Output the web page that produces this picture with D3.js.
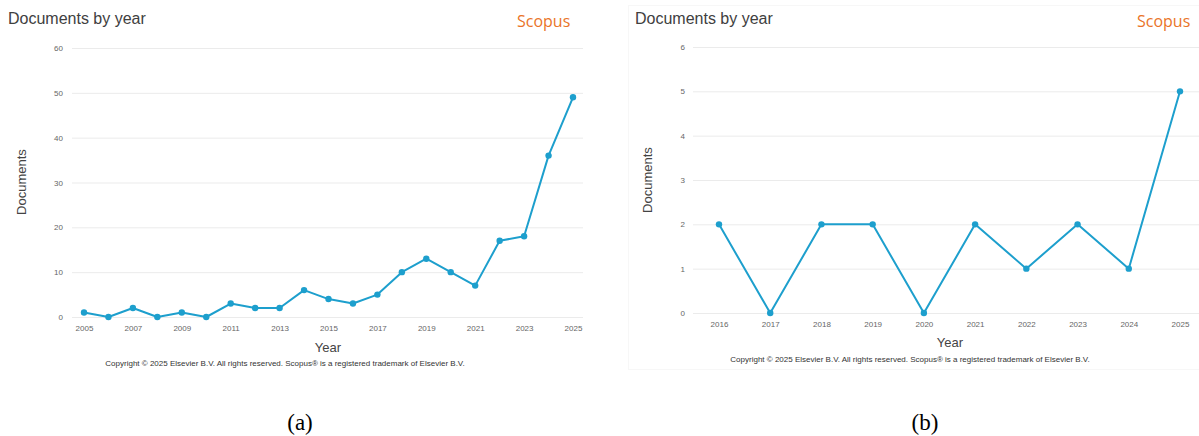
<!DOCTYPE html>
<html>
<head>
<meta charset="utf-8">
<script src="https://cdn.jsdelivr.net/npm/d3@7"></script>
<style>
  body { margin: 0; background: #fff; }
  svg { display: block; font-family: "Liberation Sans", Arial, sans-serif; }
</style>
</head>
<body>
<div id="chart"></div>
<script>
// data
var yearsA = [2005, 2006, 2007, 2008, 2009, 2010, 2011, 2012, 2013, 2014, 2015,
              2016, 2017, 2018, 2019, 2020, 2021, 2022, 2023, 2024, 2025];
var docsA  = [1, 0, 2, 0, 1, 0, 3, 2, 2, 6, 4, 3, 5, 10, 13, 10, 7, 17, 18, 36, 49];
var xTicksA = [2005, 2007, 2009, 2011, 2013, 2015, 2017, 2019, 2021, 2023, 2025];
var yTicksA = [0, 10, 20, 30, 40, 50, 60];

var yearsB = [2016, 2017, 2018, 2019, 2020, 2021, 2022, 2023, 2024, 2025];
var docsB  = [2, 0, 2, 2, 0, 2, 1, 2, 1, 5];
var xTicksB = yearsB;
var yTicksB = [0, 1, 2, 3, 4, 5, 6];

var lineColor = "#1d9fcd";
var copyright = "Copyright \u00a9 2025 Elsevier B.V. All rights reserved. Scopus\u00ae is a registered trademark of Elsevier B.V.";

var svg = d3.select("#chart")
  .append("svg")
  .attr("width", 1199)
  .attr("height", 436);

// faint card behind panel b
svg.append("rect")
  .attr("x", 628.5).attr("y", 5.5)
  .attr("width", 580).attr("height", 364)
  .attr("fill", "none")
  .attr("stroke", "#f7f7f7");

function drawPanel(p) {
  var g = svg.append("g");

  var x = d3.scaleLinear().domain(p.xDomain).range(p.xRange);
  var y = d3.scaleLinear().domain(p.yDomain).range(p.yRange);

  // gridlines + y labels
  var yAxis = d3.axisLeft(y)
    .tickValues(p.yTicks)
    .tickFormat(d3.format("d"))
    .tickSize(-(p.gridRight - p.gridLeft))
    .tickPadding(p.gridLeft - p.yLabelX);
  g.append("g")
    .attr("transform", "translate(" + p.gridLeft + ",0)")
    .call(yAxis)
    .call(function(a) {
      a.select(".domain").remove();
      a.selectAll("line").attr("stroke", "#ebebeb");
      a.selectAll("text").attr("fill", "#666").style("font-size", "8px");
    });

  // x labels only
  var xAxis = d3.axisBottom(x)
    .tickValues(p.xTicks)
    .tickFormat(d3.format("d"))
    .tickSize(0)
    .tickPadding(8);
  g.append("g")
    .attr("transform", "translate(0," + p.yRange[0] + ")")
    .call(xAxis)
    .call(function(a) {
      a.select(".domain").remove();
      a.selectAll("text").attr("fill", "#666").style("font-size", "8px");
    });

  var pts = p.years.map(function(d, i) { return [d, p.docs[i]]; });

  g.append("path")
    .datum(pts)
    .attr("fill", "none")
    .attr("stroke", lineColor)
    .attr("stroke-width", 2)
    .attr("stroke-linejoin", "round")
    .attr("d", d3.line().x(function(d) { return x(d[0]); }).y(function(d) { return y(d[1]); }));

  g.selectAll("circle")
    .data(pts)
    .enter()
    .append("circle")
    .attr("cx", function(d) { return x(d[0]); })
    .attr("cy", function(d) { return y(d[1]); })
    .attr("r", 3.2)
    .attr("fill", lineColor);

  g.append("text")
    .attr("x", p.titleX).attr("y", 24)
    .attr("fill", "#404040")
    .style("font-size", "16px")
    .text("Documents by year");

  g.append("text")
    .attr("x", p.scopusX).attr("y", 27)
    .attr("fill", "#ea7428")
    .style("font-family", "'Open Sans', 'Noto Sans', sans-serif")
    .style("font-size", "16px")
    .text("Scopus");

  g.append("text")
    .attr("transform", "translate(" + p.docLabelX + "," + p.docLabelY + ")rotate(-90)")
    .attr("text-anchor", "middle")
    .attr("fill", "#444")
    .style("font-size", "13px")
    .text("Documents");

  g.append("text")
    .attr("x", p.yearX).attr("y", p.yearY)
    .attr("text-anchor", "middle")
    .attr("fill", "#444")
    .style("font-size", "13px")
    .text("Year");

  g.append("text")
    .attr("x", p.copyX).attr("y", p.copyY)
    .attr("text-anchor", "middle")
    .attr("fill", "#333")
    .style("font-size", "8px")
    .text(copyright);

  g.append("text")
    .attr("x", p.capX).attr("y", 430)
    .attr("text-anchor", "middle")
    .attr("fill", "#000")
    .style("font-family", "'Liberation Serif', 'Times New Roman', serif")
    .style("font-size", "23px")
    .text(p.caption);
}

drawPanel({
  years: yearsA, docs: docsA, xTicks: xTicksA, yTicks: yTicksA,
  xDomain: [2005, 2025], xRange: [84, 573],
  yDomain: [0, 60], yRange: [317, 48],
  gridLeft: 72, gridRight: 583, yLabelX: 63,
  titleX: 8, scopusX: 517,
  docLabelX: 26, docLabelY: 182,
  yearX: 328, yearY: 352,
  copyX: 285, copyY: 366,
  capX: 300, caption: "(a)"
});

drawPanel({
  years: yearsB, docs: docsB, xTicks: xTicksB, yTicks: yTicksB,
  xDomain: [2016, 2025], xRange: [719, 1180],
  yDomain: [0, 6], yRange: [313, 47],
  gridLeft: 693, gridRight: 1199, yLabelX: 685,
  titleX: 635, scopusX: 1137,
  docLabelX: 652, docLabelY: 180,
  yearX: 950, yearY: 347,
  copyX: 910, copyY: 362,
  capX: 925, caption: "(b)"
});
</script>
</body>
</html>
